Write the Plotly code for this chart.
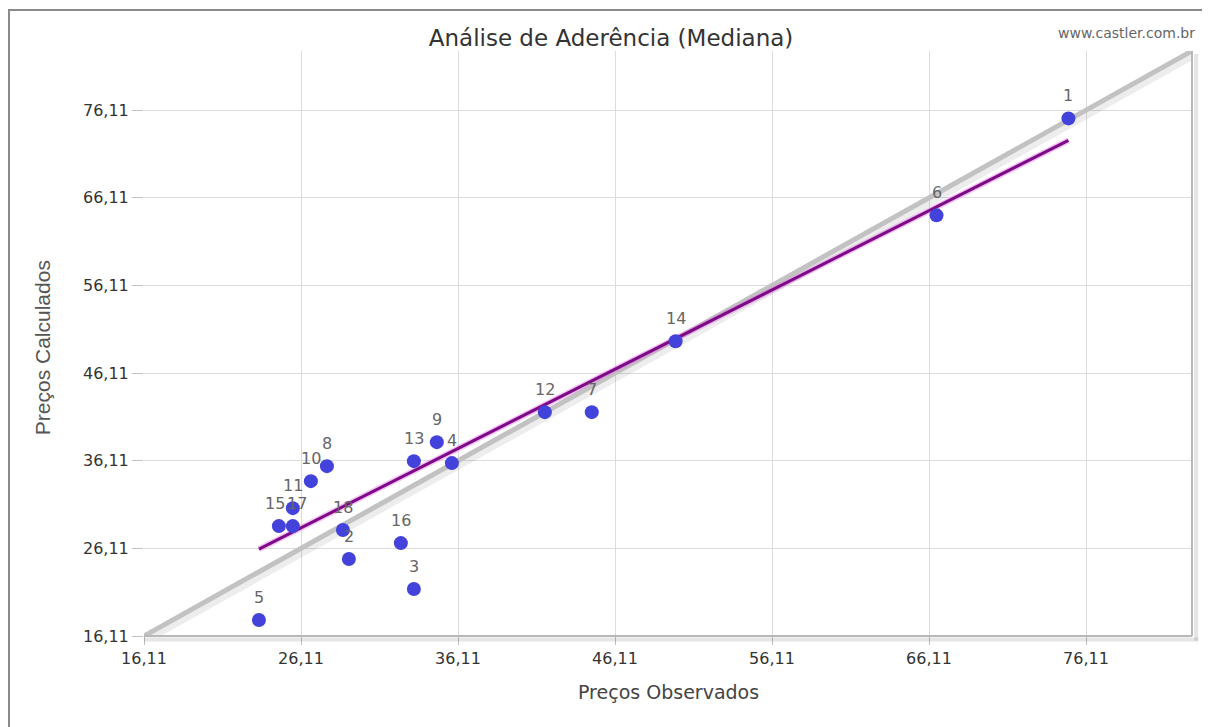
import plotly.graph_objects as go

# Data
labels = ["1", "2", "3", "4", "5", "6", "7", "8", "9", "10",
          "11", "12", "13", "14", "15", "16", "17", "18"]
observed = [74.99, 29.16, 33.30, 35.72, 23.43, 66.59, 44.63, 27.76, 34.76, 26.74,
            25.59, 41.64, 33.30, 49.97, 24.70, 32.47, 25.59, 28.78]
calculated = [75.17, 24.89, 21.47, 35.84, 17.93, 64.11, 41.65, 35.49, 38.23, 33.78,
              30.70, 41.65, 36.06, 49.75, 28.65, 26.71, 28.65, 28.20]
trend_x = [23.43, 74.99]
trend_y = [26.03, 72.67]
ideal_line = [16.11, 82.86]
tick_vals = [16.11, 26.11, 36.11, 46.11, 56.11, 66.11, 76.11]
tick_text = ["16,11", "26,11", "36,11", "46,11", "56,11", "66,11", "76,11"]

AX_MIN, AX_MAX = 16.11, 82.86
FONT = "DejaVu Sans, Verdana, sans-serif"

fig = go.Figure()

# shadow for the ideal line
fig.add_trace(go.Scatter(x=[v + 0.15 for v in ideal_line], y=[v - 0.4 for v in ideal_line],
                         mode="lines", line=dict(color="rgba(0,0,0,0.07)", width=8),
                         hoverinfo="skip", showlegend=False))
fig.add_trace(go.Scatter(x=ideal_line, y=ideal_line, mode="lines",
                         line=dict(color="#c2c2c2", width=5),
                         hoverinfo="skip", showlegend=False))
# glow for trend line
fig.add_trace(go.Scatter(x=trend_x, y=trend_y, mode="lines",
                         line=dict(color="rgba(230,120,230,0.45)", width=6),
                         hoverinfo="skip", showlegend=False))
fig.add_trace(go.Scatter(x=trend_x, y=trend_y, mode="lines",
                         line=dict(color="#7d0a86", width=3),
                         hoverinfo="skip", showlegend=False))
fig.add_trace(go.Scatter(x=observed, y=calculated, mode="markers",
                         marker=dict(color="#4343dc", size=14, line=dict(width=0)),
                         showlegend=False))

label_xshift = {"15": -4, "17": 4}
for lab, xv, yv in zip(labels, observed, calculated):
    fig.add_annotation(x=xv, y=yv, text=lab, showarrow=False, yshift=23,
                       xshift=label_xshift.get(lab, 0),
                       font=dict(family=FONT, size=16, color="#666666"))

axis_common = dict(
    range=[AX_MIN, AX_MAX], tickvals=tick_vals, ticktext=tick_text,
    showgrid=True, gridcolor="#dcdcdc", gridwidth=1, zeroline=False,
    ticks="outside", tickcolor="#c0c0c0",
    tickfont=dict(family=FONT, size=16, color="#333333"),
    showline=False, fixedrange=True,
)
fig.update_xaxes(**axis_common, ticklen=8)
fig.update_yaxes(**axis_common, ticklen=11)

shapes = [
    # outer frame (only top and left are visible in the window)
    dict(type="rect", xref="paper", yref="paper", x0=-0.1288, x1=1.08, y0=-0.25, y1=1.0701,
         line=dict(color="#8a8a8a", width=2), fillcolor="rgba(0,0,0,0)", layer="below"),
    # plot-area shadows
    dict(type="line", xref="paper", yref="paper", x0=1.004, x1=1.004, y0=-0.008, y1=0.995,
         line=dict(color="rgba(0,0,0,0.10)", width=4)),
    dict(type="line", xref="paper", yref="paper", x0=0.0, x1=1.006, y0=-0.006, y1=-0.006,
         line=dict(color="rgba(0,0,0,0.10)", width=4)),
    # plot-area right / bottom edges
    dict(type="line", xref="paper", yref="paper", x0=1, x1=1, y0=0, y1=1,
         line=dict(color="#b8b8b8", width=2)),
    dict(type="line", xref="paper", yref="paper", x0=0, x1=1, y0=0, y1=0,
         line=dict(color="#b8b8b8", width=2)),
]

# page has 8px body margin -> figure is 8px smaller and margins shifted
fig.update_layout(
    width=1202, height=719,
    margin=dict(l=136, r=18, t=43, b=91),
    paper_bgcolor="white", plot_bgcolor="white",
    separators=",.",
    title=dict(text="Análise de Aderência (Mediana)", x=0.5017, xanchor="center",
               y=0.958, yanchor="middle",
               font=dict(family=FONT, size=23, color="#333333")),
    shapes=shapes,
    showlegend=False,
)
fig.add_annotation(xref="paper", yref="paper", x=1.0048, y=1.031, xanchor="right", yanchor="middle",
                   text="www.castler.com.br", showarrow=False,
                   font=dict(family=FONT, size=14, color="#666666"))
fig.add_annotation(xref="paper", yref="paper", x=0.5, y=-0.0957, xanchor="center", yanchor="middle",
                   text="Preços Observados", showarrow=False,
                   font=dict(family=FONT, size=19, color="#444444"))
fig.add_annotation(xref="paper", yref="paper", x=-0.0973, y=0.492, xanchor="center", yanchor="middle",
                   text="Preços Calculados", showarrow=False, textangle=-90,
                   font=dict(family="Liberation Sans, Arial, sans-serif", size=21, color="#555555"))

fig.write_html("out.html")
